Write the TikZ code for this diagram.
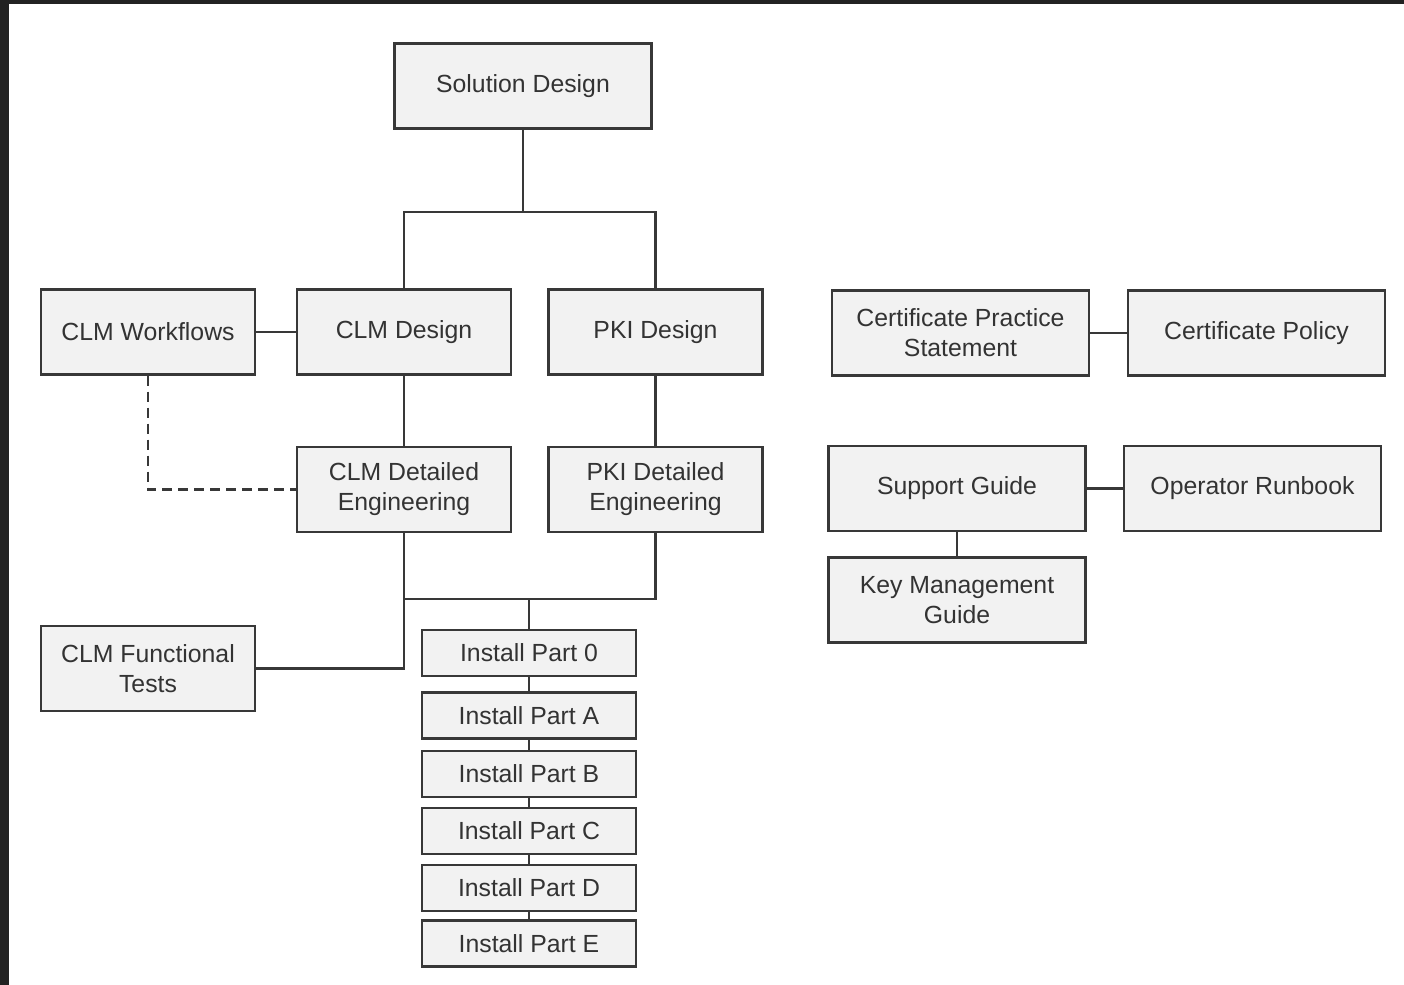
\documentclass[tikz,border=0pt]{standalone}
\usepackage{fontspec}
\setmainfont{Liberation Sans}
\definecolor{boxfill}{HTML}{F2F2F2}
\definecolor{boxline}{HTML}{383838}
\definecolor{frame}{HTML}{222222}
\tikzset{
  doc/.style={draw=boxline, fill=boxfill, line width=1.1pt, text=black!80,
    minimum width=107pt, minimum height=42.5pt, inner sep=0pt, align=center,
    font=\fontsize{12.4}{15}\selectfont},
  doccp/.style={doc, minimum width=128.5pt},
  part/.style={doc, minimum height=23pt},
  link/.style={draw=boxline, line width=1.1pt},
  linkdash/.style={link, dash pattern=on 5pt off 3pt}
}
\begin{document}
\begin{tikzpicture}[x=0.5pt, y=-0.5pt]
  \fill[frame] (0,0) rectangle (1404,985);
  \fill[white] (9,4) rectangle (1404,985);
  \useasboundingbox (0,0) rectangle (1404,985);

  \node[doccp] (sol) at (523, 86){\raisebox{-1pt}{Solution Design}};
  \node[doc] (wf)  at (148, 332){CLM Workflows};
  \node[doc] (clm) at (404, 332){CLM Design};
  \node[doc] (pki) at (655.5, 332){PKI Design};
  \node[doccp] (cps) at (960.5, 333){Certificate Practice\\Statement};
  \node[doccp] (cp)  at (1256.5, 333){Certificate Policy};
  \node[doc] (clmde) at (404, 489.5){CLM Detailed\\Engineering};
  \node[doc] (pkide) at (655.5, 489.5){PKI Detailed\\Engineering};
  \node[doccp] (sup) at (957, 488.5){Support Guide};
  \node[doccp] (run) at (1252.5, 488.5){Operator Runbook};
  \node[doccp] (key) at (957, 600){Key Management\\Guide};
  \node[doc] (test) at (148, 668.5){CLM Functional\\Tests};

  \node[part] (p0) at (529, 653){Install Part 0};
  \node[part] (pA) at (529, 715.5){Install Part A};
  \node[part] (pB) at (529, 774){Install Part B};
  \node[part] (pC) at (529, 831){Install Part C};
  \node[part] (pD) at (529, 888){Install Part D};
  \node[part] (pE) at (529, 943.5){Install Part E};

  \coordinate (top) at (523, 212);
  \coordinate (mid) at (529, 599);

  \draw[link] (sol.south) -- (top);
  \draw[link] (clm.north) |- (top) -| (pki.north);
  \draw[link] (wf) -- (clm);
  \draw[linkdash] (wf.south) |- (clmde.west);
  \draw[link] (clm) -- (clmde);
  \draw[link] (pki) -- (pkide);
  \draw[link] (clmde.south) |- (test.east);
  \draw[link] (clmde.south |- mid) -- (mid) -| (pkide.south);
  \draw[link] (mid) -- (p0.north);
  \draw[link] (p0) -- (pA) -- (pB) -- (pC) -- (pD) -- (pE);
  \draw[link] (cps) -- (cp);
  \draw[link] (sup) -- (run);
  \draw[link] (sup) -- (key);
\end{tikzpicture}
\end{document}
